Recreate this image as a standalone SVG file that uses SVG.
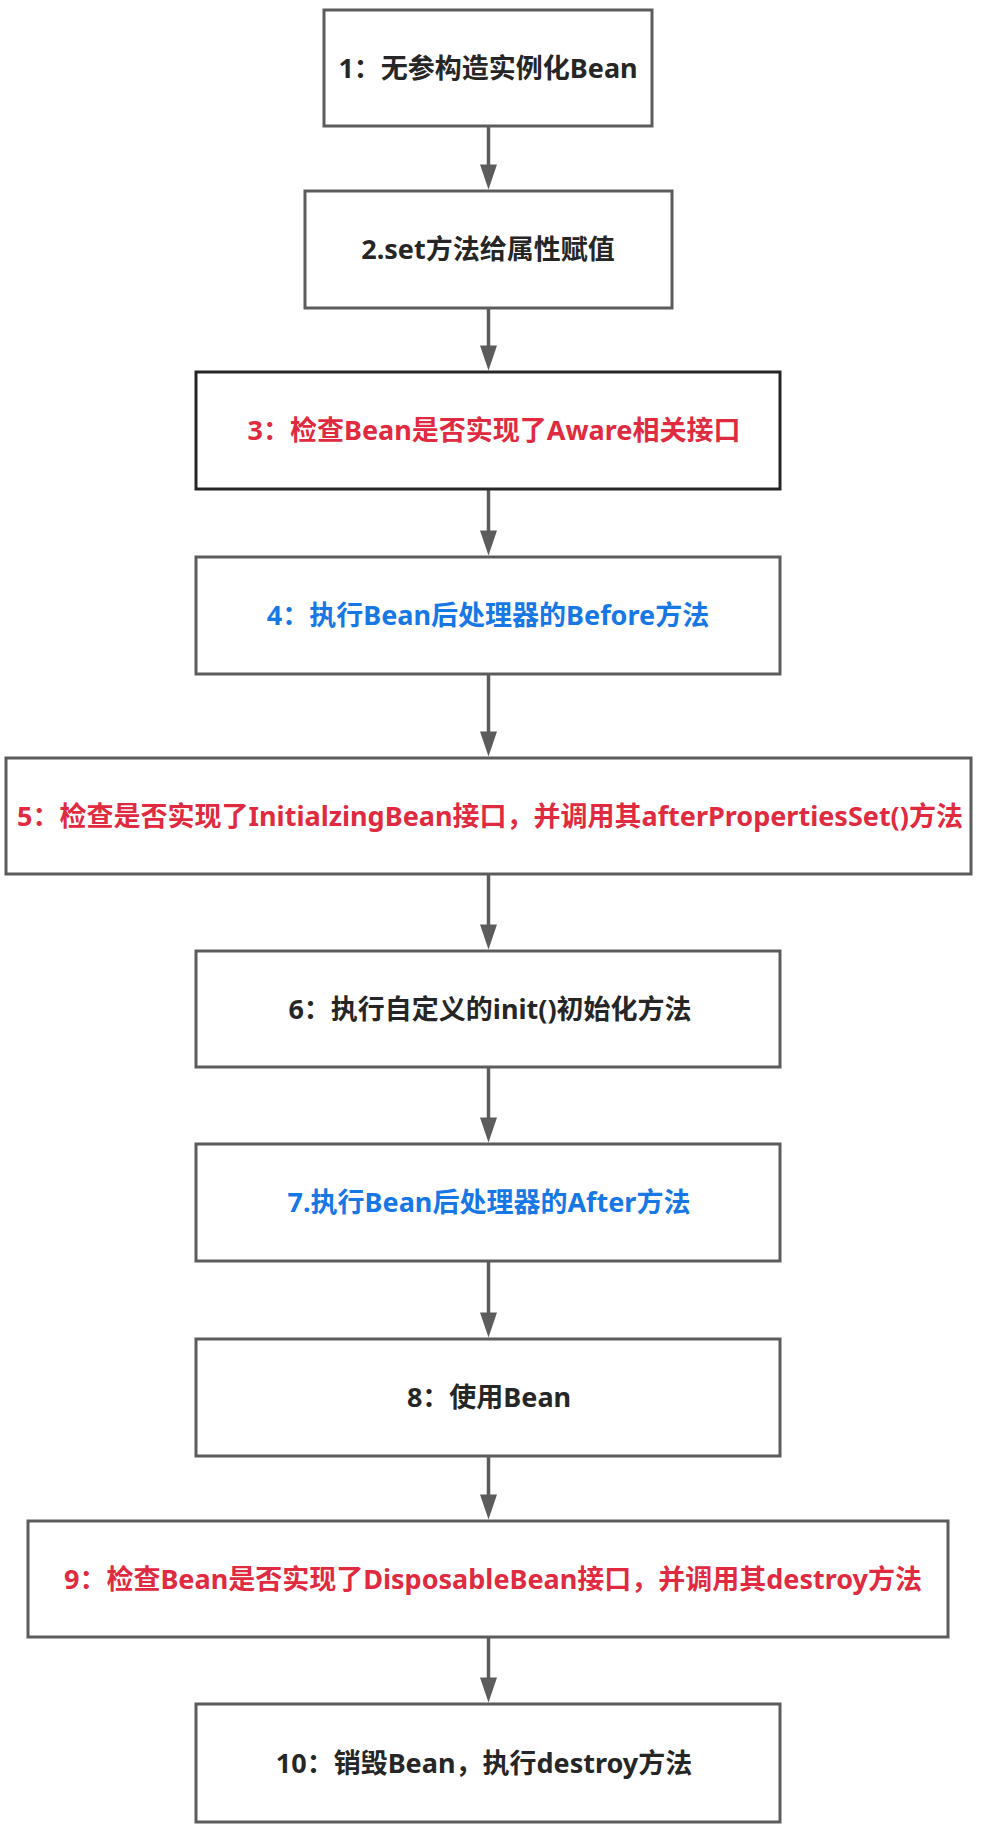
<svg xmlns="http://www.w3.org/2000/svg" width="982" height="1830" viewBox="0 0 982 1830">
<style>
.box{fill:#ffffff;stroke:#5c5c5c;stroke-width:3}
.box.dark{stroke:#262626}
.t{font-family:"Noto Sans","Noto Sans CJK SC",sans-serif;font-weight:bold;font-size:27px;text-anchor:middle}
.k{fill:#262626}
.r{fill:#df2a3f}
.b{fill:#1677e5}
.ln{stroke:#5c5c5c;stroke-width:3.5;fill:none}
.hd{fill:#5c5c5c}
</style>
<rect width="982" height="1830" fill="#ffffff"/>
<g id="connectors">
<line class="ln" x1="488.5" y1="127" x2="488.5" y2="170"/><path class="hd" d="M480,164.5 L497,164.5 L488.5,189.5 Z"/>
<line class="ln" x1="488.5" y1="309" x2="488.5" y2="351"/><path class="hd" d="M480,345.5 L497,345.5 L488.5,370.5 Z"/>
<line class="ln" x1="488.5" y1="490" x2="488.5" y2="536"/><path class="hd" d="M480,530.5 L497,530.5 L488.5,555.5 Z"/>
<line class="ln" x1="488.5" y1="675" x2="488.5" y2="737"/><path class="hd" d="M480,731.5 L497,731.5 L488.5,756.5 Z"/>
<line class="ln" x1="488.5" y1="875" x2="488.5" y2="930"/><path class="hd" d="M480,924.5 L497,924.5 L488.5,949.5 Z"/>
<line class="ln" x1="488.5" y1="1068" x2="488.5" y2="1123"/><path class="hd" d="M480,1117.5 L497,1117.5 L488.5,1142.5 Z"/>
<line class="ln" x1="488.5" y1="1262" x2="488.5" y2="1318"/><path class="hd" d="M480,1312.5 L497,1312.5 L488.5,1337.5 Z"/>
<line class="ln" x1="488.5" y1="1457" x2="488.5" y2="1500"/><path class="hd" d="M480,1494.5 L497,1494.5 L488.5,1519.5 Z"/>
<line class="ln" x1="488.5" y1="1638" x2="488.5" y2="1683"/><path class="hd" d="M480,1677.5 L497,1677.5 L488.5,1702.5 Z"/>
</g>
<g id="n1"><rect class="box" x="324" y="10" width="328" height="116"/><text class="t k" x="488" y="78">1：无参构造实例化Bean</text></g>
<g id="n2"><rect class="box" x="305" y="191" width="367" height="117"/><text class="t k" x="488" y="259">2.set方法给属性赋值</text></g>
<g id="n3"><rect class="box dark" x="196" y="372" width="584" height="117"/><text class="t r" x="494" y="440">3：检查Bean是否实现了Aware相关接口</text></g>
<g id="n4"><rect class="box" x="196" y="557" width="584" height="117"/><text class="t b" x="488" y="625">4：执行Bean后处理器的Before方法</text></g>
<g id="n5"><rect class="box" x="6" y="758" width="965" height="116"/><text class="t r" x="490" y="826">5：检查是否实现了InitialzingBean接口，并调用其afterPropertiesSet()方法</text></g>
<g id="n6"><rect class="box" x="196" y="951" width="584" height="116"/><text class="t k" x="490" y="1019">6：执行自定义的init()初始化方法</text></g>
<g id="n7"><rect class="box" x="196" y="1144" width="584" height="117"/><text class="t b" x="489" y="1212">7.执行Bean后处理器的After方法</text></g>
<g id="n8"><rect class="box" x="196" y="1339" width="584" height="117"/><text class="t k" x="489" y="1407">8：使用Bean</text></g>
<g id="n9"><rect class="box" x="28" y="1521" width="920" height="116"/><text class="t r" x="493" y="1589">9：检查Bean是否实现了DisposableBean接口，并调用其destroy方法</text></g>
<g id="n10"><rect class="box" x="196" y="1704" width="584" height="118"/><text class="t k" x="484" y="1773">10：销毁Bean，执行destroy方法</text></g>
</svg>
